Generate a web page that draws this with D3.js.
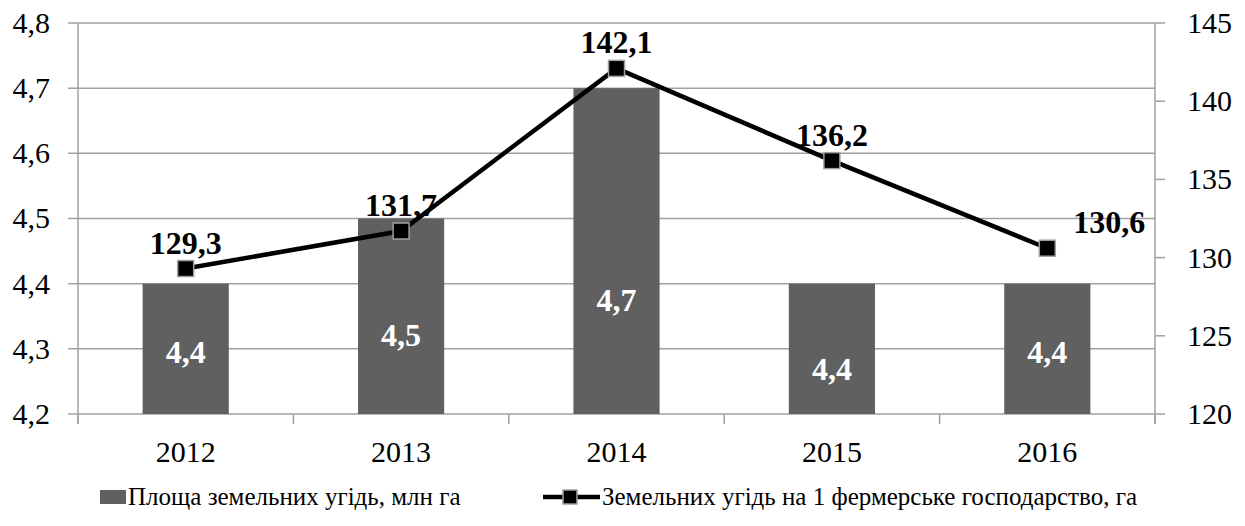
<!DOCTYPE html>
<html><head><meta charset="utf-8">
<script src="https://cdn.jsdelivr.net/npm/d3@7"></script>
<style>body{margin:0;background:#fff}svg{display:block}</style>
</head><body><svg id="c" width="1245" height="526" font-family="Liberation Serif"></svg>
<script>
const years = ["2012","2013","2014","2015","2016"];
const area = [4.4, 4.5, 4.7, 4.4, 4.4];
const areaLabels = ["4,4","4,5","4,7","4,4","4,4"];
const areaLabelAt = [4.295, 4.321, 4.375, 4.268, 4.295];
const perFarm = [129.3, 131.7, 142.1, 136.2, 130.6];
const perFarmLabels = ["129,3","131,7","142,1","136,2","130,6"];
const leftTicks = [4.2,4.3,4.4,4.5,4.6,4.7,4.8];
const rightTicks = [120,125,130,135,140,145];
const seriesNames = ["Площа земельних угідь, млн га","Земельних угідь на 1 фермерське господарство, га"];

const svg = d3.select("#c");
const L = 78, R = 1155, T = 23, B = 414;
const x = d3.scaleBand().domain(years).range([L,R]).paddingInner(0.6).paddingOuter(0.3);
const step = x.step();
const yL = d3.scaleLinear().domain([4.2,4.8]).range([B,T]);
const yR = d3.scaleLinear().domain([120,145]).range([B,T]);
const grid = "#a0a0a0";
const fmt = d => d3.format(".1f")(d).replace(".",",");
const FS = 30, FB = 32, FL = 25;

svg.append("g").selectAll("line").data(leftTicks).join("line")
  .attr("x1",L-10).attr("x2",R).attr("y1",d=>yL(d)).attr("y2",d=>yL(d))
  .attr("stroke",grid).attr("stroke-width",1.5);
svg.append("g").selectAll("line").data(rightTicks).join("line")
  .attr("x1",R).attr("x2",R+10).attr("y1",d=>yR(d)).attr("y2",d=>yR(d))
  .attr("stroke",grid).attr("stroke-width",1.5);
svg.append("line").attr("x1",L).attr("x2",L).attr("y1",T).attr("y2",B+10).attr("stroke",grid).attr("stroke-width",1.5);
svg.append("line").attr("x1",R).attr("x2",R).attr("y1",T).attr("y2",B+10).attr("stroke",grid).attr("stroke-width",1.5);
const bounds = d3.range(years.length+1).map(i => L + i*step);
svg.append("g").selectAll("line").data(bounds).join("line")
  .attr("x1",d=>d).attr("x2",d=>d).attr("y1",B).attr("y2",B+10)
  .attr("stroke",grid).attr("stroke-width",1.5);

svg.append("g").selectAll("text").data(leftTicks).join("text")
  .attr("x",L-28).attr("y",d=>yL(d)+FS*0.33).attr("text-anchor","end")
  .attr("font-size",FS).text(fmt);
svg.append("g").selectAll("text").data(rightTicks).join("text")
  .attr("x",R+32).attr("y",d=>yR(d)+FS*0.33).attr("text-anchor","start")
  .attr("font-size",FS).text(d=>d);
svg.append("g").selectAll("text").data(years).join("text")
  .attr("x",d=>x(d)+x.bandwidth()/2).attr("y",B+48).attr("text-anchor","middle")
  .attr("font-size",FS).text(d=>d);

svg.append("g").selectAll("rect").data(years).join("rect")
  .attr("x",d=>x(d)).attr("width",x.bandwidth())
  .attr("y",(d,i)=>yL(area[i])).attr("height",(d,i)=>yL(4.2)-yL(area[i]))
  .attr("fill","#606060");
svg.append("g").selectAll("text").data(years).join("text")
  .attr("x",d=>x(d)+x.bandwidth()/2).attr("y",(d,i)=>yL(areaLabelAt[i])+FB*0.33)
  .attr("text-anchor","middle").attr("font-size",FB).attr("font-weight","bold").attr("fill","#fff")
  .text((d,i)=>areaLabels[i]);

const cx = d => x(d)+x.bandwidth()/2;
const line = d3.line().x((d,i)=>cx(years[i])).y(d=>yR(d));
svg.append("path").datum(perFarm).attr("d",line).attr("fill","none").attr("stroke","#000").attr("stroke-width",4.5);
svg.append("g").selectAll("rect").data(perFarm).join("rect")
  .attr("x",(d,i)=>cx(years[i])-8).attr("y",d=>yR(d)-8).attr("width",16).attr("height",16)
  .attr("fill","#000").attr("stroke","#a0a0a0").attr("stroke-width",1.5);
svg.append("g").selectAll("text").data(perFarm).join("text")
  .attr("x",(d,i)=> i===4 ? cx(years[i])+62 : cx(years[i]))
  .attr("y",(d,i)=> (i===4 ? yR(d)-15 : yR(d)-15))
  .attr("text-anchor","middle")
  .attr("font-size",FB).attr("font-weight","bold").attr("fill","#000")
  .text((d,i)=>perFarmLabels[i]);

const ly = 497;
svg.append("rect").attr("x",100).attr("y",ly-7).attr("width",26).attr("height",14).attr("fill","#606060");
svg.append("text").attr("x",128).attr("y",ly+FL*0.33).attr("font-size",FL).text(seriesNames[0]);
svg.append("line").attr("x1",543).attr("x2",600).attr("y1",ly).attr("y2",ly).attr("stroke","#000").attr("stroke-width",4.5);
svg.append("rect").attr("x",563).attr("y",ly-7).attr("width",14).attr("height",14).attr("fill","#000").attr("stroke","#a0a0a0").attr("stroke-width",1.5);
svg.append("text").attr("x",602).attr("y",ly+FL*0.33).attr("font-size",FL).text(seriesNames[1]);
</script></body></html>
